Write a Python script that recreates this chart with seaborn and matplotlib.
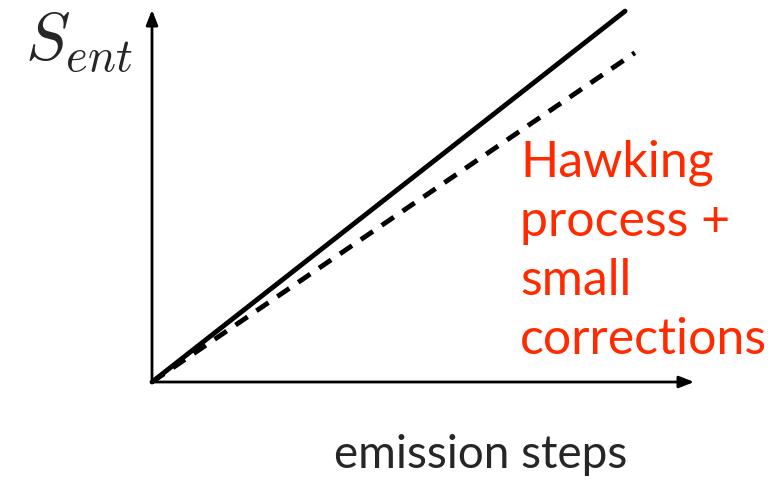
import matplotlib
matplotlib.use("Agg")
import matplotlib.pyplot as plt
import seaborn as sns
import pandas as pd

# Données (unités arbitraires, axe de 0 à 10)
steps = [0.0, 8.68]
s_hawking = [0.0, 9.89]
steps_corr = [0.0, 8.86]
s_corr = [0.0, 8.78]

sns.set_style("white")
plt.rcParams["mathtext.fontset"] = "cm"

fig = plt.figure(figsize=(7.79, 4.81), dpi=100)
W, H = 779, 481
x0, y0 = 152, 383
ax = fig.add_axes([x0 / W, (H - y0) / H, (697 - x0) / W, (y0 - 8) / H])
ax.set_xlim(0, 10)
ax.set_ylim(0, 10)
ax.axis("off")

df1 = pd.DataFrame({"x": steps, "y": s_hawking})
df2 = pd.DataFrame({"x": steps_corr, "y": s_corr})
sns.lineplot(data=df1, x="x", y="y", color="black", lw=3.5, ax=ax, clip_on=False)
sns.lineplot(data=df2, x="x", y="y", color="black", lw=3.5, ax=ax,
             linestyle=(0, (3, 2.2)), clip_on=False)

# axes avec flèches
arrow = dict(arrowstyle="-|>,head_length=0.9,head_width=0.35", color="black", lw=2)
ax.annotate("", xy=(1, 0), xytext=(0, 0), xycoords="axes fraction", arrowprops=arrow)
ax.annotate("", xy=(0, 1), xytext=(0, 0), xycoords="axes fraction", arrowprops=arrow)

fig.text(79 / W, 1 - 42 / H, r"$S_{ent}$", fontsize=48, ha="center", va="center")
fig.text(481 / W, 1 - 455 / H, "emission steps", fontsize=33, family="Lato",
         ha="center", va="center")
fig.text(520 / W, 1 - 140 / H, "Hawking\nprocess +\nsmall\ncorrections",
         fontsize=36, family="Lato", color="#ff2a00", ha="left", va="top",
         linespacing=1.35)

fig.savefig("out.png", dpi=100)
